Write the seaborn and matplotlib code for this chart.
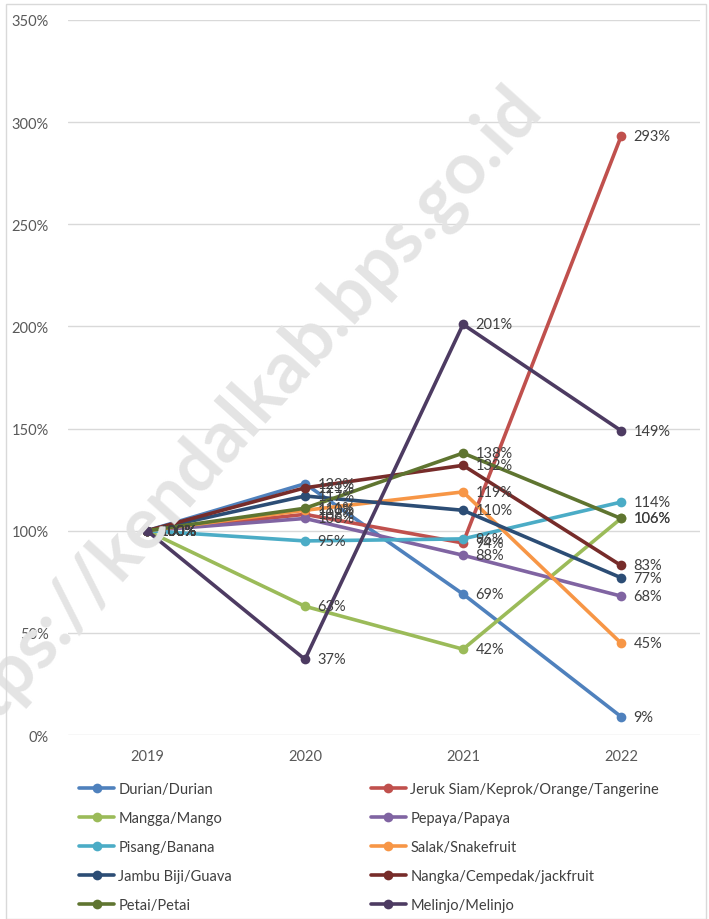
import matplotlib
matplotlib.use("Agg")
import matplotlib.pyplot as plt
from matplotlib.lines import Line2D
from matplotlib.patches import Rectangle
import seaborn as sns
import pandas as pd

# Data: index of production vs 2019 (percent)
years = [2019, 2020, 2021, 2022]
fruits = ['Durian/Durian', 'Jeruk Siam/Keprok/Orange/Tangerine', 'Mangga/Mango',
          'Pepaya/Papaya', 'Pisang/Banana', 'Salak/Snakefruit', 'Jambu Biji/Guava',
          'Nangka/Cempedak/jackfruit', 'Petai/Petai', 'Melinjo/Melinjo']
durian = [100, 123, 69, 9]
jeruk = [100, 108, 94, 293]
mangga = [100, 63, 42, 106]
pepaya = [100, 106, 88, 68]
pisang = [100, 95, 96, 114]
salak = [100, 110, 119, 45]
jambu = [100, 117, 110, 77]
nangka = [100, 121, 132, 83]
petai = [100, 111, 138, 106]
melinjo = [100, 37, 201, 149]
colors = ['#4F81BD', '#C0504D', '#9BBB59', '#8064A2', '#4BACC6',
          '#F79646', '#2C4D75', '#772C2A', '#5F7530', '#4D3B62']

series = [durian, jeruk, mangga, pepaya, pisang, salak, jambu, nangka, petai, melinjo]
rows = []
for name, vals in zip(fruits, series):
    for y, v in zip(years, vals):
        rows.append({'year': y, 'fruit': name, 'value': v})
df = pd.DataFrame(rows)

sns.set_style("white")
plt.rcParams['font.family'] = ['Lato', 'DejaVu Sans']

fig = plt.figure(figsize=(7.09, 9.20), dpi=100)
ax = fig.add_axes([68 / 709, 1 - 736 / 920, (700 - 68) / 709, (736 - 21) / 920])
ax.patch.set_alpha(0)

# watermark
fig.text(232 / 709, 1 - 426 / 920, 'https://kendalkab.bps.go.id', fontsize=52,
         fontweight='bold', color='#e4e4e4', rotation=48, ha='center', va='center',
         zorder=0)

sns.lineplot(data=df, x='year', y='value', hue='fruit', hue_order=fruits,
             palette=colors, marker='o', markersize=7, markeredgewidth=0,
             linewidth=2.6, sort=False, legend=False, ax=ax, zorder=3)

# data labels
for name, vals in zip(fruits, series):
    for y, v in zip(years, vals):
        ax.annotate(f'{v}%', (y, v), xytext=(9, 0), textcoords='offset points',
                    ha='left', va='center', fontsize=10.5, color='#404040', zorder=5)

ax.set_xlim(2018.5, 2022.5)
ax.set_ylim(0, 350)
ax.set_xticks(years)
ax.set_xticklabels([str(y) for y in years])
ax.set_yticks(range(0, 351, 50))
ax.set_yticklabels([f'{t}%' for t in range(0, 351, 50)])
ax.tick_params(axis='both', length=0, labelsize=10.5, labelcolor='#595959')
ax.tick_params(axis='y', pad=14)
ax.tick_params(axis='x', pad=10)
ax.grid(axis='y', color='#d9d9d9', linewidth=1)
ax.set_axisbelow(True)
for s in ax.spines.values():
    s.set_visible(False)
ax.set_xlabel('')
ax.set_ylabel('')

# legend in two columns, row-wise order
order = [0, 2, 4, 6, 8, 1, 3, 5, 7, 9]
handles = [Line2D([0], [0], color=colors[i], lw=2.6, marker='o', markersize=7,
                  markeredgewidth=0) for i in order]
labels = [fruits[i] for i in order]
fig.legend(handles, labels, ncol=2, loc='upper left',
           bbox_to_anchor=(66 / 709, 1 - 770 / 920), frameon=False,
           fontsize=10.5, labelcolor='#404040', handlelength=2.4,
           handletextpad=0.3, columnspacing=9.5, labelspacing=1.02)

fig.patches.append(Rectangle((6 / 709, 0.0), 700 / 709, 1 - 5 / 920,
                             transform=fig.transFigure, fill=False,
                             edgecolor='#d9d9d9', linewidth=1))

fig.savefig('out.png', dpi=100)
